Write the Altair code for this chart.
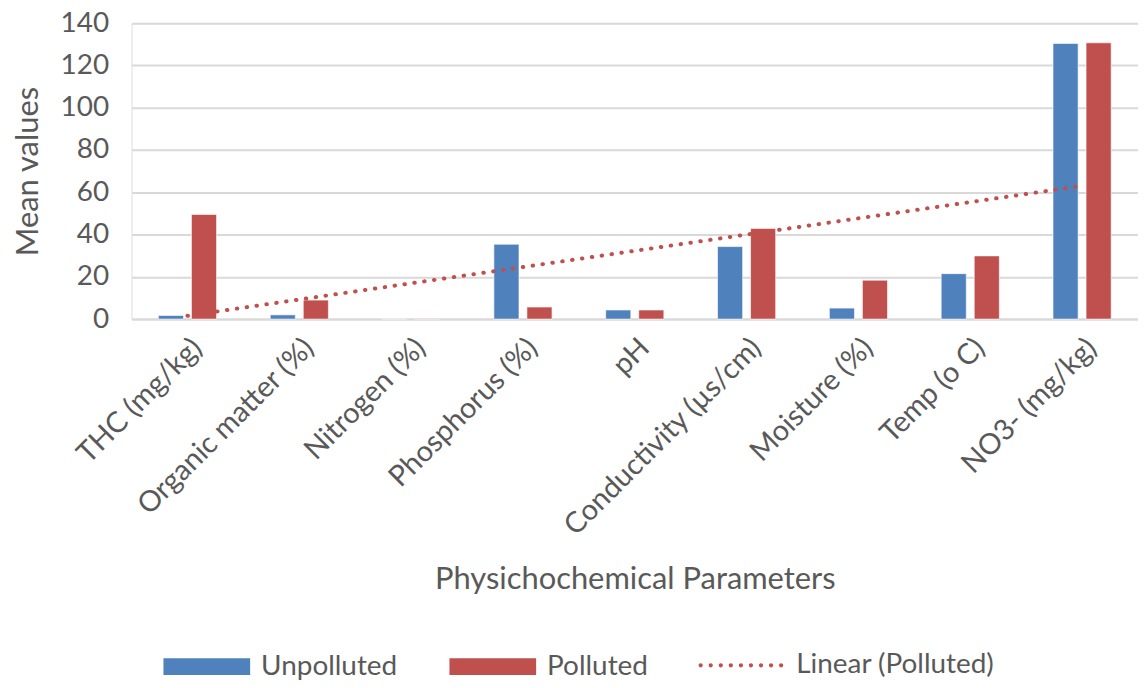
import altair as alt
import pandas as pd

categories = ["THC (mg/kg)", "Organic matter (%)", "Nitrogen (%)", "Phosphorus (%)", "pH",
              "Conductivity (µs/cm)", "Moisture (%)", "Temp (o C)", "NO3- (mg/kg)"]
unpolluted = [1.7, 2.0, 0.2, 35.4, 4.3, 34.3, 5.2, 21.5, 130.4]
polluted = [49.5, 9.0, 0.3, 5.7, 4.3, 42.9, 18.4, 29.9, 130.7]
series_names = ["Unpolluted", "Polluted"]
series_colors = ["#4F81BD", "#C0504D"]
y_ticks = [0, 20, 40, 60, 80, 100, 120, 140]

FONT = "Lato"
TXT = "#595959"

long_rows = []
for i, c in enumerate(categories):
    long_rows.append({"category": c, "series": "Unpolluted", "value": unpolluted[i]})
    long_rows.append({"category": c, "series": "Polluted", "value": polluted[i]})
bars_df = pd.DataFrame(long_rows)

trend_df = pd.DataFrame({"idx": list(range(1, len(categories) + 1)), "Polluted": polluted})

# dotted legend symbol (style): a row of small round dots in unit coordinates
n_dots = 9
r = 0.05
dot_path = " ".join(
    f"M{(-0.95 + k * 1.9 / (n_dots - 1)) - r:.4f},0 a{r},{r} 0 1,0 {2*r},0 a{r},{r} 0 1,0 {-2*r},0 Z"
    for k in range(n_dots)
)

y_axis = alt.Axis(values=y_ticks, labelFontSize=28, labelColor=TXT, labelFont=FONT,
                  labelPadding=23, ticks=False, domain=False, gridColor="#D9D9D9",
                  gridWidth=2, titleFontSize=31, titleColor=TXT, titleFont=FONT,
                  titleFontWeight="normal", titlePadding=16)

bars = alt.Chart(bars_df).mark_bar(stroke="white", strokeWidth=1, strokeOpacity=0.6).encode(
    x=alt.X("category:N", sort=categories, title="Physichochemical Parameters",
            scale=alt.Scale(paddingInner=0.48, paddingOuter=0.24),
            axis=alt.Axis(labelAngle=-45, labelFontSize=29, labelColor=TXT, labelFont=FONT,
                          labelPadding=14, ticks=False, domainColor="#D9D9D9", domainWidth=2,
                          titleFontSize=31, titleColor=TXT, titleFont=FONT, titleFontWeight="normal",
                          titlePadding=46, labelLimit=400)),
    xOffset=alt.XOffset("series:N", sort=series_names,
                        scale=alt.Scale(paddingInner=0.24, paddingOuter=0)),
    y=alt.Y("value:Q", title="Mean values",
            scale=alt.Scale(domain=[0, 140], nice=False), axis=y_axis),
    color=alt.Color("series:N", sort=series_names,
                    scale=alt.Scale(domain=series_names, range=series_colors),
                    legend=alt.Legend(title=None, orient="none", direction="horizontal",
                                      legendX=32, legendY=602,
                                      symbolType="M-1,-0.195H1V0.195H-1Z", symbolSize=7569,
                                      symbolStrokeWidth=0, symbolOpacity=1,
                                      labelFontSize=28, labelColor=TXT, labelFont=FONT,
                                      labelOffset=11, columnPadding=52, labelLimit=300)),
)

trend = alt.Chart(trend_df).transform_regression(
    "idx", "Polluted", extent=[1, len(categories)]
).transform_calculate(
    label="'Linear (Polluted)'"
).mark_line(color="#C0504D", strokeWidth=4, strokeCap="round").encode(
    x=alt.X("idx:Q", scale=alt.Scale(domain=[0.5, len(categories) + 0.5], nice=False, zero=False),
            axis=None),
    y=alt.Y("Polluted:Q", title="Mean values", scale=alt.Scale(domain=[0, 140], nice=False),
            axis=y_axis),
    strokeDash=alt.StrokeDash("label:N",
                              scale=alt.Scale(domain=["Linear (Polluted)"], range=[[0.5, 9.5]]),
                              legend=alt.Legend(title=None, orient="none", legendX=569, legendY=602,
                                                symbolType=dot_path, symbolSize=7225,
                                                symbolFillColor="#C0504D", symbolStrokeWidth=0,
                                                symbolOpacity=1, labelLimit=300,
                                                labelFontSize=28, labelColor=TXT, labelFont=FONT,
                                                labelOffset=13)),
)

chart = alt.layer(bars, trend).resolve_scale(x="independent", strokeDash="independent").properties(
    width=1010, height=297, padding={"left": 4, "top": 0, "right": 0, "bottom": 0}
).configure_view(strokeWidth=0).configure(background="white")

chart.save("out.html", embed_options={"renderer": "svg", "actions": False})
